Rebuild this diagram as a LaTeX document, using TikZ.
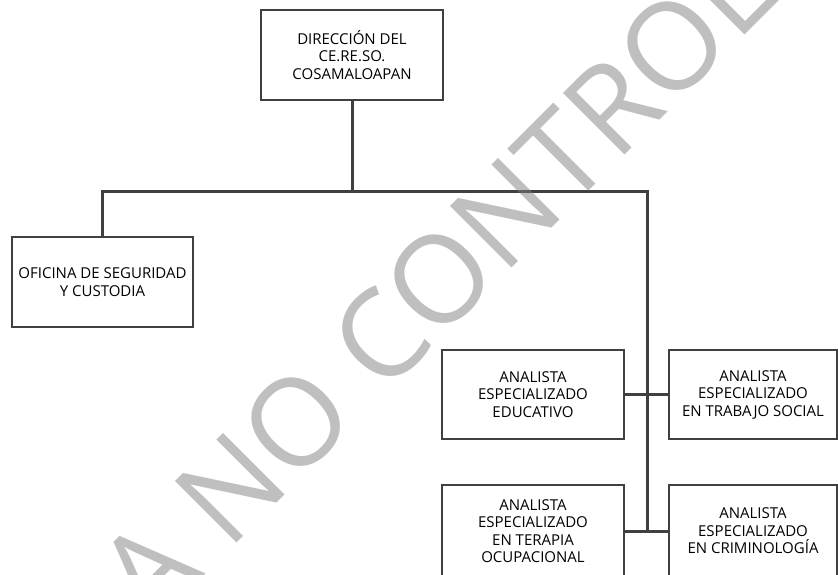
\documentclass[tikz,border=0pt]{standalone}
\usepackage{fontspec}
\setmainfont{Open Sans}
\usetikzlibrary{positioning,calc}
\definecolor{linegray}{HTML}{404040}
\newcommand\stampfont{\fontsize{122}{122}\selectfont}
\newlength\stampoff
\tikzset{
  unit/.style={draw=linegray, line width=2pt, fill=white, align=center, inner sep=0pt,
    font=\fontsize{15}{17.5}\selectfont},
  link/.style={draw=linegray, line width=3pt},
  stamp/.style={text=black!50, text opacity=0.5, inner sep=0pt, font=\stampfont}
}

\begin{document}
\settowidth\stampoff{\stampfont COPIA\ }%
\begin{tikzpicture}[x=1pt, y=-1pt]
\useasboundingbox (0,0) rectangle (838,575);
\clip (0,0) rectangle (838,575);
\node[unit, minimum width=182pt, minimum height=90pt] (dir)  at (352,55)    {DIRECCIÓN DEL\\CE.RE.SO.\\COSAMALOAPAN};
\node[unit, minimum width=181pt, minimum height=90pt] (seg)  at (102.5,282) {OFICINA DE SEGURIDAD\\Y CUSTODIA};
\node[unit, minimum width=182pt, minimum height=89pt] (edu)  at (533,394.5) {ANALISTA\\ESPECIALIZADO\\EDUCATIVO};
\node[unit, minimum width=168pt, minimum height=89pt] (tsoc) at (753,394.5) {ANALISTA\\ESPECIALIZADO\\EN TRABAJO SOCIAL};
\node[unit, minimum width=182pt, minimum height=92pt] (tera) at (533,531)   {ANALISTA\\ESPECIALIZADO\\EN TERAPIA\\OCUPACIONAL};
\node[unit, minimum width=168pt, minimum height=92pt] (crim) at (753,531)   {ANALISTA\\ESPECIALIZADO\\EN CRIMINOLOGÍA};

\coordinate (bus)   at (352,191);
\coordinate (trunk) at (647,191);

\draw[link] (dir) -- (bus);
\draw[link] (seg) |- (bus) -- (trunk) -- (trunk |- tera.east);
\draw[link] (edu)  -- (tsoc);
\draw[link] (tera) -- (crim);

% watermark, lined up on the N of "NO"
\coordinate (nfoot) at (237,543);
\path let \n1 = {\stampoff+12pt} in
  node[stamp, rotate=45, anchor=base west] (wm) at ($(nfoot)+(225:\n1)$) {COPIA NO CONTROLADA};
\end{tikzpicture}
\end{document}
